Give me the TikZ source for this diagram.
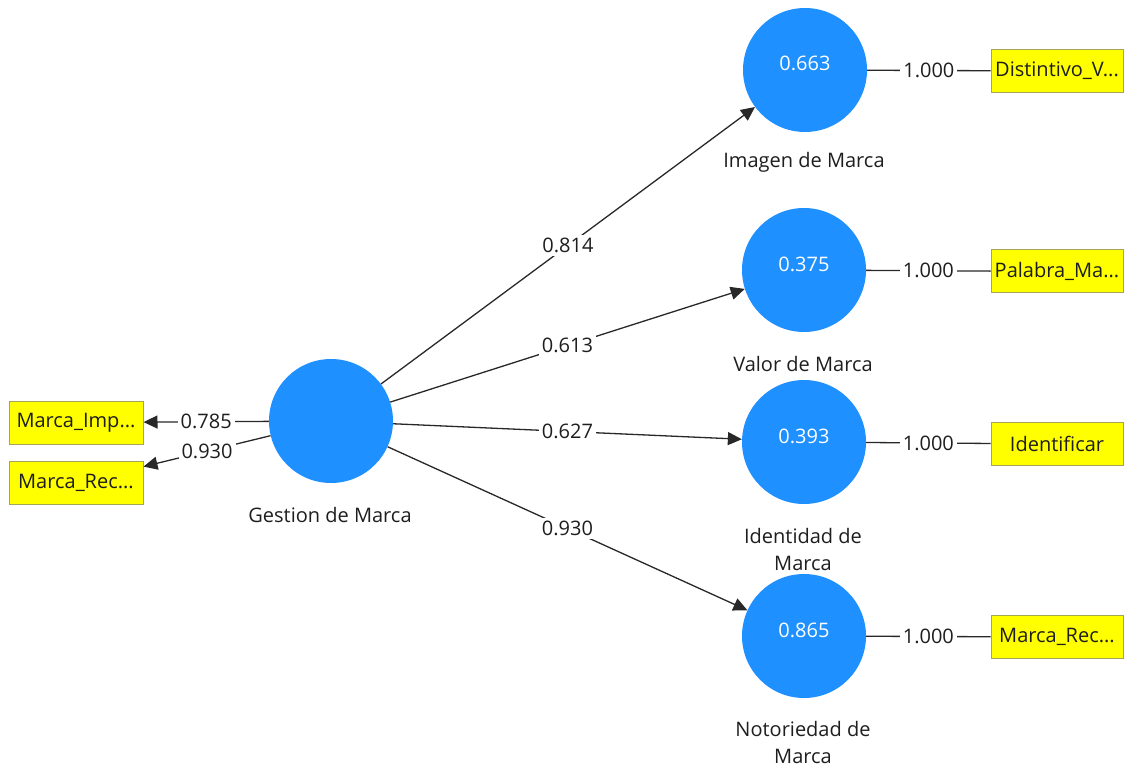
\documentclass[tikz,border=0pt]{standalone}
\usepackage{fontspec}
\setmainfont{Open Sans}
\usetikzlibrary{arrows.meta}
\definecolor{lvblue}{RGB}{30,144,255}
\definecolor{mvyellow}{RGB}{255,255,0}
\definecolor{mvborder}{RGB}{165,165,90}
\definecolor{edgecol}{RGB}{40,40,40}
\definecolor{txtcol}{RGB}{30,30,30}
\newcommand\diagfont{\fontsize{20}{27}\selectfont}
\begin{document}
\begin{tikzpicture}[x=1pt,y=-1pt,
  every node/.style={font=\diagfont, text=txtcol},
  lv/.style={circle, fill=lvblue, minimum size=124pt, inner sep=0pt},
  num/.style={text=white, inner sep=0pt},
  lvlabel/.style={align=center, inner sep=0pt},
  mv/.style={rectangle, fill=mvyellow, draw=mvborder, line width=1pt,
             minimum width=132pt, minimum height=43pt, inner sep=0pt},
  edge/.style={draw=edgecol, line width=1.3pt},
  arr/.style={edge, -{Triangle[length=14pt,width=13pt]}},
  elab/.style={fill=white, inner sep=3pt, text=txtcol}
]
\useasboundingbox (0,0) rectangle (1124,767);

% latent variables
\node[lv] (gm) at (331,421) {};
\node[lv] (im) at (805,70) {};
\node[lv] (vm) at (804,270) {};
\node[lv] (idm) at (804,442) {};
\node[lv] (nm) at (804,636) {};

% values inside
\node[num] (n1) at (805,63) {0.663};
\node[num] (n2) at (804,264) {0.375};
\node[num] (n3) at (804,436) {0.393};
\node[num] (n4) at (804,630) {0.865};

% labels
\node[lvlabel] (t0) at (330,515) {Gestion de Marca};
\node[lvlabel] (t1) at (804,162) {Imagen de Marca};
\node[lvlabel] (t2) at (803,364) {Valor de Marca};
\node[lvlabel] (t3) at (803,549.5) {Identidad de\\Marca};
\node[lvlabel] (t4) at (803,742.5) {Notoriedad de\\Marca};

% indicators
\node[mv] (b1) at (1057,71) {Distintivo\_V...};
\node[mv] (b2) at (1057,271.5) {Palabra\_Ma...};
\node[mv] (b3) at (1057,444) {Identificar};
\node[mv] (b4) at (1057,637) {Marca\_Rec...};
\node[mv, minimum width=134pt] (bl1) at (76,422.5) {Marca\_Imp...};
\node[mv, minimum width=134pt] (bl2) at (76,483) {Marca\_Rec...};

% outer loadings (left)
\draw[arr] (gm) -- node[elab] (e1) {0.785} (bl1);
\draw[arr] (gm) -- node[elab] (e2) {0.930} (bl2);

% paths
\draw[arr] (gm) -- node[elab] (p1) {0.814} (im);
\draw[arr] (gm) -- node[elab] (p2) {0.613} (vm);
\draw[arr] (gm) -- node[elab] (p3) {0.627} (idm);
\draw[arr] (gm) -- node[elab] (p4) {0.930} (nm);

% loadings right
\draw[edge] (im) -- node[elab] (l1) {1.000} (b1);
\draw[edge] (vm) -- node[elab] (l2) {1.000} (b2);
\draw[edge] (idm) -- node[elab] (l3) {1.000} (b3);
\draw[edge] (nm) -- node[elab] (l4) {1.000} (b4);
\end{tikzpicture}
\end{document}
